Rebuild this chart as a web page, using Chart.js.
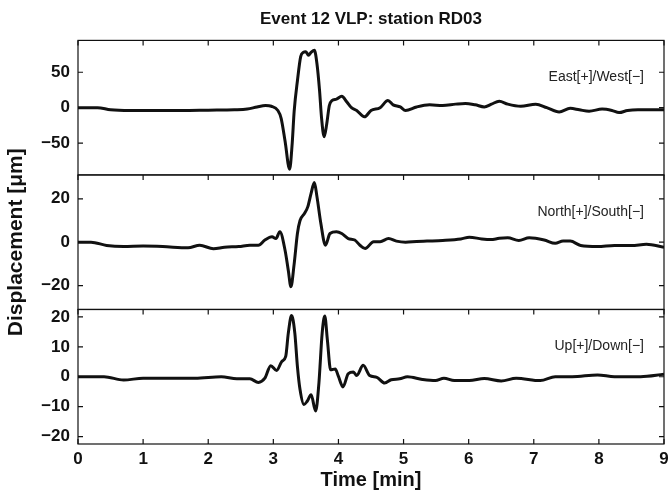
<!DOCTYPE html>
<html>
<head>
<meta charset="utf-8">
<title>Event 12 VLP: station RD03</title>
<script src="https://cdn.jsdelivr.net/npm/chart.js@4.4.1/dist/chart.umd.min.js"></script>
<style>
  html, body { margin: 0; padding: 0; background: #fff; }
  #wrap { width: 668px; height: 492px; }
</style>
</head>
<body>
<div id="wrap"><canvas id="vlpChart" width="668" height="492"></canvas></div>
<script>
// Time axis (minutes) and tick labels
const xTicks = [0, 1, 2, 3, 4, 5, 6, 7, 8, 9];

// East[+]/West[-] component (um)
const tEast = [0, 0.3, 0.5, 0.8, 1.2, 1.6, 2.0, 2.4, 2.6, 2.75, 2.88, 2.97, 3.07, 3.12, 3.18, 3.25, 3.29, 3.32, 3.37, 3.42,
  3.46, 3.5, 3.54, 3.58, 3.63, 3.67, 3.71, 3.74, 3.78, 3.82, 3.86, 3.9, 3.97, 4.05, 4.13, 4.2, 4.28, 4.4, 4.5, 4.64,
  4.76, 4.84, 4.95, 5.03, 5.2, 5.4, 5.6, 5.8, 5.95, 6.1, 6.24, 6.35, 6.47, 6.6, 6.8, 7.03, 7.2, 7.39, 7.56, 7.7,
  7.85, 8.05, 8.2, 8.31, 8.44, 8.6, 8.8, 9];
const east = [0, 0, -3, -4, -4, -4, -3.5, -3, -2, 1, 3, 2, -4, -15, -47, -87, -50, -5, 38, 72,
  78, 79, 74, 78, 81, 62, 24, -14, -41, -23, 3, 10, 12, 16, 8, 0, -4, -13, -4, 0,
  10, 4, 1, -4, 1, 4, 3, 5, 6, 4, 1, 5, 9, 5, 2, 5, 0, -6, -1, -3,
  -5, -2, -4, -7, -4, -3, -3, -3];

// North[+]/South[-] component (um)
const tNorth = [0, 0.2, 0.44, 0.7, 1.0, 1.3, 1.69, 1.87, 2.08, 2.25, 2.47, 2.64, 2.77, 2.87, 2.98, 3.04, 3.1, 3.18, 3.23, 3.27,
  3.32, 3.37, 3.41, 3.48, 3.53, 3.58, 3.63, 3.67, 3.73, 3.8, 3.87, 3.97, 4.05, 4.15, 4.25, 4.33, 4.41, 4.54, 4.64, 4.77,
  4.89, 5.03, 5.2, 5.36, 5.6, 5.88, 6.01, 6.2, 6.34, 6.47, 6.6, 6.77, 6.93, 7.16, 7.33, 7.45, 7.56, 7.72, 7.98, 8.24,
  8.5, 8.73, 9];
const north = [0, 0, -1.5, -2, -1.8, -2, -2.6, -1.4, -3, -2.3, -2, -1.4, -1.4, 1, 2.5, 1.7, 4.8, -3.7, -13, -20.5,
  -10, 4, 10, 13.3, 16.4, 22.5, 27.5, 21, 8.6, -1.4, 4, 4.8, 4, 1.7, 1, -1.4, -2.9, 0.2, 0.2, 1.7,
  0.5, 0, 0.3, 0.5, 0.8, 1.5, 2.3, 1.5, 1.2, 1.8, 2, 0.8, 2, 1, -0.5, 0.5, 0.5, -1.5, -2, -1.5,
  -1.5, -1, -2.3];

// Up[+]/Down[-] component (um)
const tUp = [0, 0.4, 0.7, 1.0, 1.4, 1.8, 2.2, 2.44, 2.64, 2.77, 2.87, 2.96, 3.05, 3.13, 3.19, 3.23, 3.28, 3.33, 3.37, 3.41,
  3.47, 3.52, 3.58, 3.65, 3.7, 3.75, 3.79, 3.83, 3.88, 3.95, 4.0, 4.07, 4.15, 4.23, 4.28, 4.38, 4.48, 4.59, 4.71, 4.81,
  4.94, 5.06, 5.29, 5.49, 5.62, 5.78, 6.01, 6.24, 6.5, 6.73, 7.1, 7.33, 7.59, 7.98, 8.24, 8.64, 9];
const up = [0, 0, -1.1, -0.5, -0.5, -0.5, 0, -0.7, -0.7, -1.9, -0.5, 3.7, 2.1, 5.1, 6.8, 14.6, 20.5, 14.6, 3.4, -4.3,
  -9.3, -8.2, -6, -11.5, -2.1, 14.6, 20.3, 12.3, 2.3, 2.6, 0.1, -3.4, 1, 1.6, 0.4, 3.8, 0.4, -0.2, -2.1, -1,
  -0.7, 0, -0.9, -1.3, -0.5, -1.3, -1.3, -0.6, -1.4, -0.5, -1.3, 0, 0, 0.6, 0, 0, 0.8];

// Axis ranges and tick labels per panel
const eastRange = [-95, 95];
const northRange = [-31, 31];
const upRange = [-22.5, 22.5];
const eastTicks = [-50, 0, 50];
const northTicks = [-20, 0, 20];
const upTicks = [-20, -10, 0, 10, 20];
const panelLabels = ['East[+]/West[\u2212]', 'North[+]/South[\u2212]', 'Up[+]/Down[\u2212]'];
const panelIds = ['yEast', 'yNorth', 'yUp'];

const FONT = "'Liberation Sans', Arial, Helvetica, sans-serif";
const INK = '#111';

function toPoints(t, v) {
    return t.map((x, i) => ({ x: x, y: v[i] }));
}

function series(id, t, v) {
    return {
        data: toPoints(t, v),
        yAxisID: id,
        borderColor: INK,
        borderWidth: 3,
        pointRadius: 0,
        cubicInterpolationMode: 'monotone',
        fill: false
    };
}

function yAxis(range, ticks, weight, extra) {
    return Object.assign({
        type: 'linear',
        position: 'left',
        stack: 'panels',
        stackWeight: 1,
        weight: weight,
        min: range[0],
        max: range[1],
        grid: { display: false, drawTicks: false },
        border: { display: false },
        afterBuildTicks: s => { s.ticks = ticks.map(v => ({ value: v })); },
        afterFit: s => { s.width = 78; },
        ticks: {
            color: INK,
            padding: 8,
            autoSkip: false,
            font: { family: FONT, size: 17, weight: 'bold' },
            callback: v => String(v).replace('-', '\u2212')
        }
    }, extra || {});
}

// Box, inward ticks and component labels for every panel
const panelFrames = {
    id: 'panelFrames',
    afterDatasetsDraw(chart) {
        const { ctx, chartArea, scales } = chart;
        const { left, right } = chartArea;
        const x = scales.x;
        const tick = 5;
        ctx.save();
        ctx.strokeStyle = INK;
        ctx.lineWidth = 1.2;
        panelIds.forEach((id, i) => {
            const ys = scales[id];
            const top = ys.top, bottom = ys.bottom;
            ctx.strokeRect(left, top, right - left, bottom - top);
            ctx.beginPath();
            ys.ticks.forEach(t => {
                const py = ys.getPixelForValue(t.value);
                ctx.moveTo(left, py); ctx.lineTo(left + tick, py);
                ctx.moveTo(right, py); ctx.lineTo(right - tick, py);
            });
            x.ticks.forEach(t => {
                const px = x.getPixelForValue(t.value);
                ctx.moveTo(px, top); ctx.lineTo(px, top + tick);
                if (i === panelIds.length - 1) {
                    ctx.moveTo(px, bottom); ctx.lineTo(px, bottom - tick);
                }
            });
            ctx.stroke();

            ctx.fillStyle = '#222';
            ctx.font = '14px ' + FONT;
            ctx.textAlign = 'right';
            ctx.textBaseline = 'middle';
            ctx.fillText(panelLabels[i], right - 20, top + 37);
        });
        ctx.restore();
    }
};

const ctx = document.getElementById('vlpChart').getContext('2d');
const vlpChart = new Chart(ctx, {
    type: 'line',
    data: {
        datasets: [
            series('yEast', tEast, east),
            series('yNorth', tNorth, north),
            series('yUp', tUp, up)
        ]
    },
    options: {
        responsive: false,
        animation: false,
        devicePixelRatio: 1,
        layout: { padding: { left: 0, right: 0, bottom: 0 } },
        plugins: {
            legend: { display: false },
            tooltip: { enabled: false },
            title: {
                display: true,
                text: 'Event 12 VLP: station RD03',
                fullSize: false,
                color: INK,
                font: { family: FONT, size: 17, weight: 'bold' },
                padding: { top: 9, bottom: 11 }
            }
        },
        scales: {
            x: {
                type: 'linear',
                min: 0,
                max: 9,
                grid: { display: false, drawTicks: false },
                border: { display: false },
                afterBuildTicks: s => { s.ticks = xTicks.map(v => ({ value: v })); },
                afterFit: s => { s.height = 48; s.paddingRight = 4; },
                ticks: {
                    color: INK,
                    padding: 5,
                    maxRotation: 0,
                    autoSkip: false,
                    font: { family: FONT, size: 17, weight: 'bold' }
                },
                title: {
                    display: true,
                    text: 'Time [min]',
                    color: INK,
                    font: { family: FONT, size: 20, weight: 'bold' },
                    padding: { top: 0, bottom: 0 }
                }
            },
            yEast: yAxis(eastRange, eastTicks, 3),
            yNorth: yAxis(northRange, northTicks, 2, {
                title: {
                    display: true,
                    text: 'Displacement [\u03bcm]',
                    color: INK,
                    font: { family: FONT, size: 21, weight: 'bold' },
                    padding: { top: 4, bottom: 0 }
                }
            }),
            yUp: yAxis(upRange, upTicks, 1)
        }
    },
    plugins: [panelFrames]
});
</script>
</body>
</html>
